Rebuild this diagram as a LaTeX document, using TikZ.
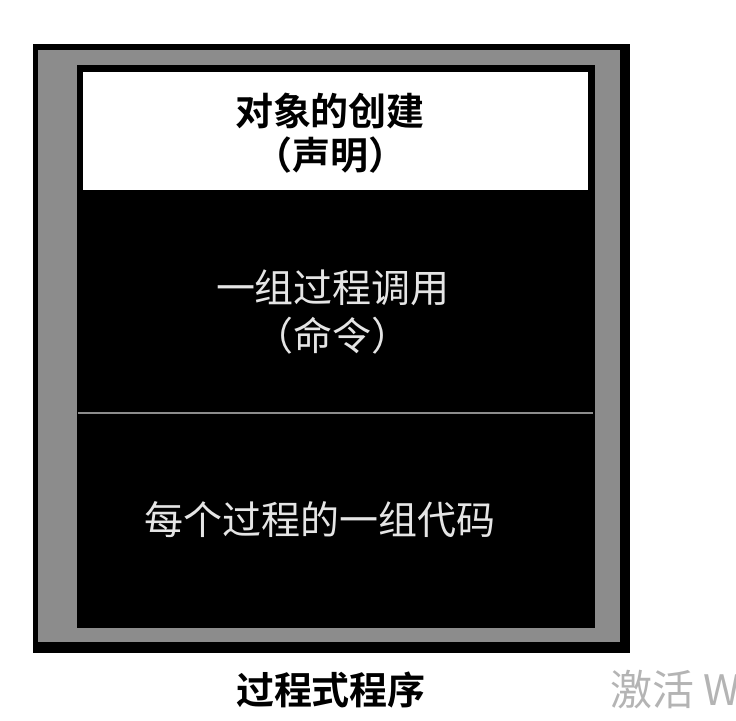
\documentclass[tikz,border=0pt]{standalone}
\usepackage{fontspec}
\newfontfamily\cjk{Noto Sans CJK SC}
\newfontfamily\cjkb{Noto Sans CJK SC Bold}
\usetikzlibrary{positioning}

\definecolor{frame}{RGB}{140,140,140}
\definecolor{mark}{RGB}{180,180,180}

\begin{document}
\begin{tikzpicture}[x=0.5pt, y=-0.5pt,
	darktext/.style={text=black, font=\cjkb\fontsize{19}{22}\selectfont, align=center},
	lighttext/.style={text=white!90!black, font=\cjk\fontsize{19.5}{24}\selectfont, align=center},
	caption/.style={text=black, font=\cjkb\fontsize{19}{22}\selectfont}]
	\useasboundingbox (0,0) rectangle (736,720);
	
	% Frame {shadow, gray border}
	\fill [black] 	(33,44) rectangle (630,653);
	\fill [frame] 	(38,50) rectangle (620,642);
	
	% Panels
	\fill [black] 	(77,190) rectangle (595,628);
	\fill [black] 	(77,65)  rectangle (595,197);
	\fill [white] 	(83,72)  rectangle (588,190);
	\coordinate (dl) at (78,413);
	\coordinate (dr) at (593,413);
	\draw [white!55!black, line width=0.6pt] (dl) -- (dr);
	
	% Nodes
	\node [darktext]	(create)	at (330,133)	{对象的创建\\（声明）};
	\node [lighttext]	(calls) 	at (333,312)	{一组过程调用\\（命令）};
	\node [lighttext]	(code)  	at (320,520)	{每个过程的一组代码};
	\node [caption] 	(title) 	at (331,690)	{过程式程序};
	\node [text=mark, font=\cjk\fontsize{21}{24}\selectfont, anchor=west]
						(activate)	at (603,690)	{激活 W};
	
\end{tikzpicture}
\end{document}
